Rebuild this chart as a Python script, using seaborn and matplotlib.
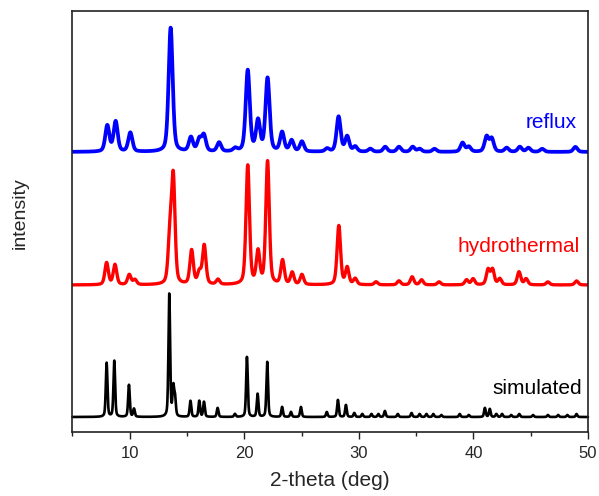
import numpy as np
import pandas as pd
import seaborn as sb
import matplotlib.pyplot as plt
from matplotlib.ticker import MultipleLocator

# peak positions (2-theta) and heights, per pattern
reflux_pos = [8.04, 8.77, 10.05, 13.57, 15.34, 16.07, 16.47, 17.8, 19.2, 20.3, 21.2,
              22.03, 23.3, 24.13, 25.03, 27.23, 28.23, 28.98, 29.68, 31.0, 32.3, 33.5,
              34.7, 35.3, 36.6, 39.05, 39.6, 41.15, 41.6, 42.9, 44.05, 44.8, 46.0, 48.9]
reflux_int = [26, 30, 19, 124, 14, 12, 16, 9, 3, 81, 30,
              73, 19, 11, 10, 3, 35, 15, 5, 3, 5, 5,
              5, 3, 3, 9, 5, 15, 13, 4, 5, 4, 3, 5]

hydro_pos = [7.98, 8.71, 9.96, 10.45, 13.5, 13.8, 15.4, 16.07, 16.5, 17.7, 20.3,
             21.2, 22.03, 23.34, 24.18, 25.03, 28.25, 28.98, 29.68, 31.5, 33.5, 34.65,
             35.47, 37.0, 39.4, 39.97, 41.28, 41.67, 42.3, 43.98, 44.6, 46.5, 49.0]
hydro_int = [22, 20, 10, 5, 45, 105, 34, 12, 39, 5, 119,
             32, 123, 24, 12, 10, 59, 17, 6, 3, 4, 8,
             5, 3, 5, 6, 15, 15, 6, 13, 6, 3, 4]

sim_pos = [7.98, 8.65, 9.93, 10.37, 13.45, 13.8, 13.95, 15.3, 16.07, 16.48, 17.67,
           19.18, 20.23, 21.16, 22.0, 23.3, 24.07, 24.94, 27.2, 28.17, 28.87,
           29.6, 30.3, 31.1, 31.7, 32.27, 33.4, 34.6, 35.3, 35.9, 36.5, 37.2, 38.8,
           39.6, 41.0, 41.43, 42.0, 42.5, 43.3, 44.0, 45.2, 46.5, 47.4, 48.2, 49.0]
sim_int = [54, 56, 32, 8, 123, 28, 18, 16, 16, 15, 9,
           3, 60, 23, 55, 10, 5, 10, 5, 17, 12,
           4, 3, 3, 3, 6, 3, 4, 3, 3, 3, 2, 3,
           2, 9, 8, 3, 3, 2, 3, 2, 2, 2, 2, 3]

patterns = ['reflux', 'hydrothermal', 'simulated']
offsets = {'reflux': 280, 'hydrothermal': 147, 'simulated': 15}
fwhm = {'reflux': 0.42, 'hydrothermal': 0.36, 'simulated': 0.17}
colors = {'reflux': '#0000ff', 'hydrothermal': '#ff0000', 'simulated': '#000000'}
widths = {'reflux': 2.7, 'hydrothermal': 2.4, 'simulated': 1.9}
peaks = {'reflux': (reflux_pos, reflux_int),
         'hydrothermal': (hydro_pos, hydro_int),
         'simulated': (sim_pos, sim_int)}


def profile(x, pos, h, w):
    # pseudo-voigt peak shape
    g = np.exp(-4 * np.log(2) * ((x - pos) / w) ** 2)
    l = 1 / (1 + 4 * ((x - pos) / w) ** 2)
    return h * (0.6 * g + 0.4 * l)


rows = []
for name in patterns:
    start = 4.26 if name == 'simulated' else 5.0
    x = np.linspace(start, 50, 4000)
    y = np.zeros_like(x)
    for p, h in zip(*peaks[name]):
        y += profile(x, p, h, fwhm[name])
    rows.append(pd.DataFrame({'two_theta': x, 'intensity': y + offsets[name], 'pattern': name}))
df = pd.concat(rows)

sb.set_style('ticks')
plt.rcParams['font.family'] = ['Liberation Sans', 'DejaVu Sans']

fig = plt.figure(figsize=(5.99, 4.96), dpi=100)
ax = fig.add_axes([0.121, 0.129, 0.8606, 0.848])

for name in patterns:
    sb.lineplot(data=df[df.pattern == name], x='two_theta', y='intensity', color=colors[name],
                lw=widths[name], estimator=None, sort=False, ax=ax)
ax.lines[-1].set_clip_on(False)

label_y = {'reflux': 309, 'hydrothermal': 185, 'simulated': 44}
label_x = {'reflux': 49.0, 'hydrothermal': 49.3, 'simulated': 49.5}
for name in patterns:
    ax.text(label_x[name], label_y[name], name, color=colors[name], fontsize=15,
            ha='right', va='center')

ax.set_xlim(5, 50)
ax.set_ylim(0, 420.5)
ax.set_yticks([])
ax.xaxis.set_major_locator(MultipleLocator(10))
ax.xaxis.set_minor_locator(MultipleLocator(5))
ax.tick_params(axis='x', which='major', length=5, width=1, labelsize=12, pad=5, color='#222222')
ax.tick_params(axis='x', which='minor', length=3, width=1, color='#222222')
for s in ax.spines.values():
    s.set_linewidth(1.2)
    s.set_color('#222222')

ax.set_xlabel('2-theta (deg)', fontsize=15, labelpad=7)
ax.set_ylabel('intensity', fontsize=14)
ax.yaxis.set_label_coords(-0.085, 0.52)

plt.savefig('out.png', dpi=100)
